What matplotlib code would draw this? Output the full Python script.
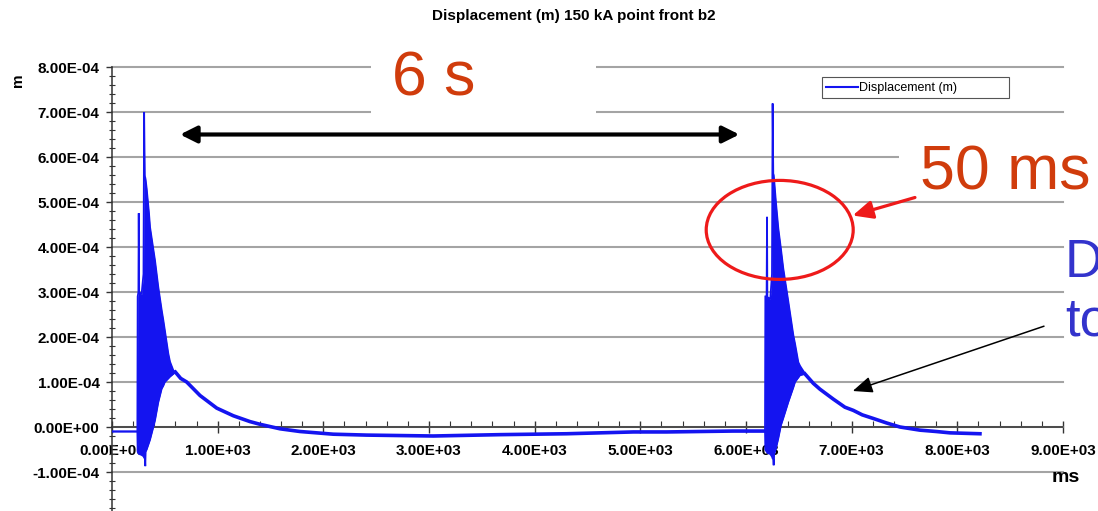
import numpy as np
import matplotlib
matplotlib.use("Agg")
import matplotlib.pyplot as plt
from matplotlib.patches import Rectangle, Ellipse
from matplotlib.lines import Line2D
from matplotlib.ticker import MultipleLocator, FuncFormatter

plt.rcParams["font.family"] = ["Liberation Sans", "DejaVu Sans"]
plt.rcParams["font.weight"] = "bold"

# ---- data: time in ms, displacement in units of 1e-4 m ----
# first pulse: oscillating band given by its upper / lower envelope
burst1_t = [0, 240, 243, 250, 253, 257, 280, 298, 304, 310, 312, 315, 318, 328,
            350, 360, 391, 407, 438, 470, 486, 500, 533, 549, 580, 600]
burst1_hi = [-0.10, -0.10, 2.90, 3.00, 4.75, 3.00, 2.95, 3.40, 7.00, 5.60, 5.56,
             5.54, 5.50, 5.30, 4.75, 4.44, 3.95, 3.70, 3.11, 2.60, 2.37, 2.15,
             1.63, 1.45, 1.26, 1.22]
burst1_lo = [-0.10, -0.10, -0.55, -0.58, -0.58, -0.60, -0.62, -0.65, -0.68, -0.70,
             -0.72, -0.87, -0.55, -0.50, -0.35, -0.28, 0.00, 0.15, 0.55, 0.85,
             0.92, 1.00, 1.08, 1.12, 1.18, 1.22]

# slow decay after the first pulse
decay1_t = [600, 650, 707, 833, 991, 1148, 1306, 1401, 1590, 1779, 2094, 2410,
            3041, 3672, 4303, 4934, 5249, 5880, 6180]
decay1_v = [1.22, 1.08, 1.00, 0.70, 0.42, 0.25, 0.12, 0.06, -0.04, -0.10, -0.16,
            -0.18, -0.20, -0.17, -0.15, -0.11, -0.11, -0.09, -0.09]

# second pulse
burst2_t = [6180, 6183, 6195, 6199, 6202, 6206, 6230, 6246, 6252, 6258, 6262,
            6266, 6283, 6306, 6331, 6353, 6401, 6448, 6464, 6495, 6511, 6527, 6558]
burst2_hi = [-0.09, 2.90, 2.90, 4.67, 2.90, 2.88, 2.85, 3.40, 7.19, 5.63, 5.60,
             5.50, 5.00, 4.41, 3.95, 3.52, 2.78, 2.04, 1.85, 1.44, 1.36, 1.30, 1.19]
burst2_lo = [-0.09, -0.50, -0.55, -0.56, -0.57, -0.58, -0.60, -0.66, -0.70, -0.72,
             -0.85, -0.60, -0.48, -0.25, 0.04, 0.20, 0.56, 0.88, 1.00, 1.10, 1.15,
             1.16, 1.18]

# slow decay after the second pulse
decay2_t = [6558, 6637, 6700, 6826, 6936, 7015, 7100, 7204, 7330, 7457, 7646,
            7800, 7930, 8214]
decay2_v = [1.18, 0.97, 0.84, 0.62, 0.44, 0.37, 0.27, 0.19, 0.09, 0.00, -0.07,
            -0.10, -0.13, -0.15]

UNIT = 1e-4
x_ticks_step = 1000
y_ticks_step = 1e-4

TITLE = "Displacement (m) 150 kA point front b2"
SERIES = "Displacement (m)"

BLUE = "#1414F0"
RED_TXT = "#D03C0C"
RED = "#EE1A1A"

W, H = 1098, 511


def fx(px):
    return px / W


def fy(py):
    return 1 - py / H


fig = plt.figure(figsize=(W / 100, H / 100), dpi=100)
ax = fig.add_axes([fx(112), fy(517), (1063 - 112) / W, 450 / H])

ax.set_xlim(0, 9000)
ax.set_ylim(-2e-4, 8e-4)

# trace
for t, hi, lo in ((burst1_t, burst1_hi, burst1_lo), (burst2_t, burst2_hi, burst2_lo)):
    t = np.asarray(t)
    hi = np.asarray(hi) * UNIT
    lo = np.asarray(lo) * UNIT
    ax.fill_between(t, lo, hi, color=BLUE, lw=0, zorder=3)
    ax.plot(t, hi, color=BLUE, lw=1.3, zorder=3, solid_joinstyle="miter")
    ax.plot(t, lo, color=BLUE, lw=1.3, zorder=3, solid_joinstyle="miter")
for t, v in ((decay1_t, decay1_v), (decay2_t, decay2_v)):
    ax.plot(t, np.asarray(v) * UNIT, color=BLUE, lw=2.6, zorder=3)

# axes styling
for s in ("top", "right"):
    ax.spines[s].set_visible(False)
ax.spines["left"].set_position(("data", 0))
ax.spines["bottom"].set_position(("data", 0))
for s in ("left", "bottom"):
    ax.spines[s].set_color("#333333")
    ax.spines[s].set_linewidth(1.1)

ax.xaxis.set_major_locator(MultipleLocator(x_ticks_step))
ax.xaxis.set_minor_locator(MultipleLocator(x_ticks_step / 5))
ax.yaxis.set_major_locator(MultipleLocator(y_ticks_step))
ax.yaxis.set_minor_locator(MultipleLocator(y_ticks_step / 5))


def sci(v, pos):
    if abs(v) < 1e-12:
        v = 0.0
    return f"{v:.2E}"


ax.xaxis.set_major_formatter(FuncFormatter(sci))
ax.yaxis.set_major_formatter(FuncFormatter(sci))

ax.tick_params(axis="y", which="major", direction="out", length=4, width=1,
               pad=5, labelsize=11, color="#333333")
ax.tick_params(axis="y", which="minor", direction="inout", length=4, width=0.8,
               color="#333333")
ax.tick_params(axis="x", which="major", direction="inout", length=8, width=1,
               pad=8, labelsize=11, color="#333333")
ax.tick_params(axis="x", which="minor", direction="in", length=4, width=0.8,
               color="#333333")

ax.grid(axis="y", which="major", color="#a4a4a4", lw=1.5)
ax.set_axisbelow(True)

# legend box
fig.add_artist(Rectangle((fx(822), fy(98)), (1009 - 822) / W, 21 / H,
                         transform=fig.transFigure, facecolor="white",
                         edgecolor="#555555", lw=0.8, zorder=5))
fig.add_artist(Line2D([fx(826), fx(858)], [fy(87.5), fy(87.5)],
                      transform=fig.transFigure, color=BLUE, lw=1.5, zorder=6))
fig.text(fx(859), fy(87.5), SERIES, fontsize=9, weight="normal",
         va="center", ha="left", zorder=6)

# titles and axis names
fig.text(fx(574), fy(16), TITLE, fontsize=11, weight="bold",
         ha="center", va="center")
fig.text(fx(18), fy(80), "m", fontsize=11, weight="bold", rotation=90,
         ha="center", va="center")
fig.text(fx(1066), fy(478), "ms", fontsize=14, weight="bold",
         ha="center", va="center")

# white label panels
fig.add_artist(Rectangle((fx(371), fy(122)), (596 - 371) / W, 82 / H,
                         transform=fig.transFigure, facecolor="white",
                         edgecolor="none", zorder=4))
fig.add_artist(Rectangle((fx(899), fy(195)), (W - 899) / W, 70 / H,
                         transform=fig.transFigure, facecolor="white",
                         edgecolor="none", zorder=4))

fig.text(fx(392), fy(95), "6 s", fontsize=45, weight="normal", color=RED_TXT,
         ha="left", va="baseline", zorder=7)
fig.text(fx(920), fy(190), "50 ms", fontsize=45, weight="normal", color=RED_TXT,
         ha="left", va="baseline", zorder=7)
fig.text(fx(1065), fy(277), "D", fontsize=38, weight="normal", color="#3333CC",
         ha="left", va="baseline", zorder=7)
fig.text(fx(1065), fy(335), "to", fontsize=38, weight="normal", color="#3333CC",
         ha="left", va="baseline", zorder=7)

# period arrow between the two pulses
ax.annotate("", xy=(5937, 6.5e-4), xytext=(644, 6.5e-4),
            arrowprops=dict(arrowstyle="<|-|>,head_length=1.0,head_width=0.5",
                            lw=3, color="black", mutation_scale=10,
                            shrinkA=0, shrinkB=0), zorder=6)

# ring around the second pulse peak and its pointer
ax.add_patch(Ellipse((6319, 4.38e-4), 1391, 2.2e-4, fill=False,
                     edgecolor=RED, lw=2.3, zorder=6))
ax.annotate("", xy=(7010, 4.70e-4), xytext=(7599, 5.10e-4),
            arrowprops=dict(arrowstyle="-|>,head_length=1.2,head_width=0.55",
                            lw=2.3, color=RED, mutation_scale=10,
                            shrinkA=0, shrinkB=0), zorder=8, annotation_clip=False)

# pointer to the decay tail
ax.annotate("", xy=(7010, 0.80e-4), xytext=(8820, 2.24e-4),
            arrowprops=dict(arrowstyle="-|>,head_length=1.2,head_width=0.5",
                            lw=1.1, color="black", mutation_scale=10,
                            shrinkA=0, shrinkB=0), zorder=8, annotation_clip=False)

# keep the top grid line at full width on the axes edge
fig.canvas.draw()
for gl in ax.get_ygridlines():
    gl.set_clip_on(False)

fig.savefig("out.png", dpi=100)
